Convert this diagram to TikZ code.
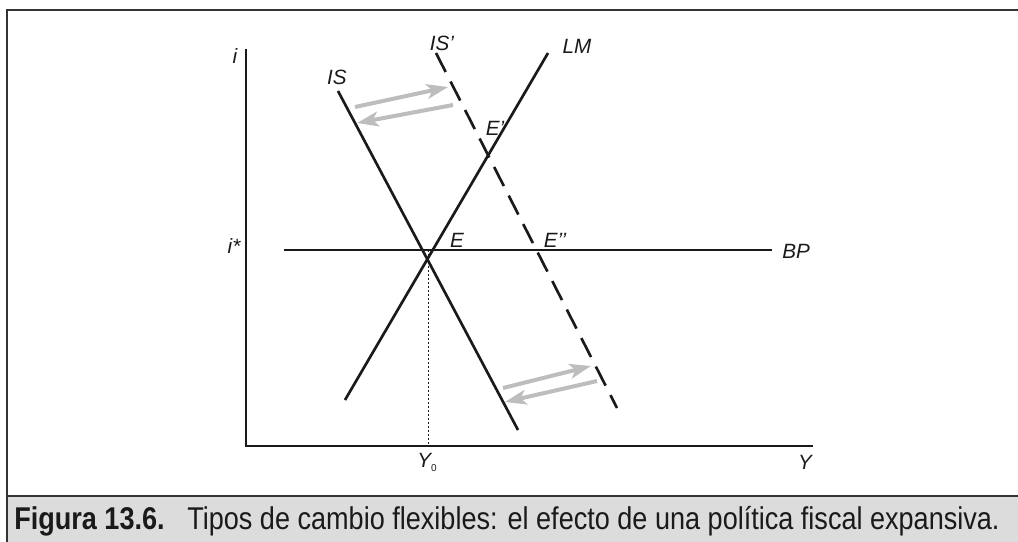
\documentclass[tikz,border=0pt]{standalone}
\usepackage{fontspec}
\setmainfont{Liberation Sans}
\newfontfamily\capfont[FakeStretch=0.86]{Liberation Sans}
\usetikzlibrary{arrows.meta}
\definecolor{framegray}{HTML}{333333}
\definecolor{bandgray}{HTML}{DCDCDC}
\definecolor{arrowgray}{HTML}{BDBDBD}
\definecolor{ink}{HTML}{1A1A1A}
\tikzset{
  curve/.style={draw=ink, line width=2pt},
  dashcurve/.style={draw=ink, line width=2pt, dash pattern=on 16pt off 8pt},
  axisline/.style={draw=ink, line width=1.2pt},
  bpline/.style={draw=ink, line width=1pt},
  guide/.style={draw=ink, line width=0.6pt, dash pattern=on 1.5pt off 1.5pt},
  grayarrow/.style={draw=arrowgray, line width=3pt, -{Stealth[length=16pt,width=11pt,inset=4pt]}},
  lbl/.style={font=\itshape\fontsize{15.5}{17}\selectfont, text=ink, inner sep=0pt},
}
\begin{document}
\begin{tikzpicture}[x=0.75pt,y=-0.75pt]
\useasboundingbox (0,0) rectangle (1018,542);
% frame and caption band
\fill[bandgray] (7,496) rectangle (1018,542);
\draw[framegray, line width=1.6pt] (1018,10) -- (7,10) -- (7,542);
\draw[framegray, line width=1.4pt] (7,496) -- (1018,496);
\node[anchor=base west, inner sep=0pt, text=ink] (cap) at (14,529)
  {\capfont\fontsize{23.6}{26}\selectfont\textbf{Figura 13.6.}\hspace{17pt}Tipos de cambio flexibles: el efecto de una política fiscal expansiva.};
% axes
\coordinate (O) at (246,446);
\coordinate (ytop) at (246,49);
\coordinate (xend) at (813,446);
\draw[axisline] (ytop) -- (O) -- (xend);
\node[lbl] (ilab) at (235,56) {i};
\node[lbl] (Ylab) at (805,462) {Y};
\node[lbl] (Y0lab) at (427,462) {Y\raisebox{-3pt}{\fontsize{7.5}{8}\selectfont\upshape 0}};
\node[lbl] (istar) at (234,246) {i*};
% BP
\coordinate (bp1) at (284,250);
\coordinate (bp2) at (772,250);
\draw[bpline] (bp1) -- (bp2);
\node[lbl, anchor=west] (BPlab) at (782,251) {BP};
% dotted guide
\coordinate (g1) at (428,250);
\coordinate (g2) at (428,446);
\draw[guide] (g1) -- (g2);
% IS
\coordinate (is1) at (338,91);
\coordinate (is2) at (518,430);
\draw[curve] (is1) -- (is2);
\node[lbl] (ISlab) at (337,77) {IS};
% LM
\coordinate (lm1) at (345,400);
\coordinate (lm2) at (548,53);
\draw[curve] (lm1) -- (lm2);
\node[lbl] (LMlab) at (577,46) {LM};
% IS'
\coordinate (isp1) at (436,53);
\coordinate (isp2) at (617,408);
\draw[dashcurve] (isp1) -- (isp2);
\node[lbl] (ISplab) at (442,43) {IS'};
% point labels
\node[lbl] (E) at (457,240) {E};
\node[lbl] (Ep) at (495,128) {E'};
\node[lbl] (Epp) at (555,240) {E'{}'};
% grey arrows
\coordinate (ua1) at (355,107);
\coordinate (ua2) at (448,87);
\coordinate (ub1) at (453,105);
\coordinate (ub2) at (357,123);
\draw[grayarrow] (ua1) -- (ua2);
\draw[grayarrow] (ub1) -- (ub2);
\coordinate (la1) at (503,388);
\coordinate (la2) at (591,366);
\coordinate (lb1) at (597,381);
\coordinate (lb2) at (505,402);
\draw[grayarrow] (la1) -- (la2);
\draw[grayarrow] (lb1) -- (lb2);
\end{tikzpicture}
\end{document}
